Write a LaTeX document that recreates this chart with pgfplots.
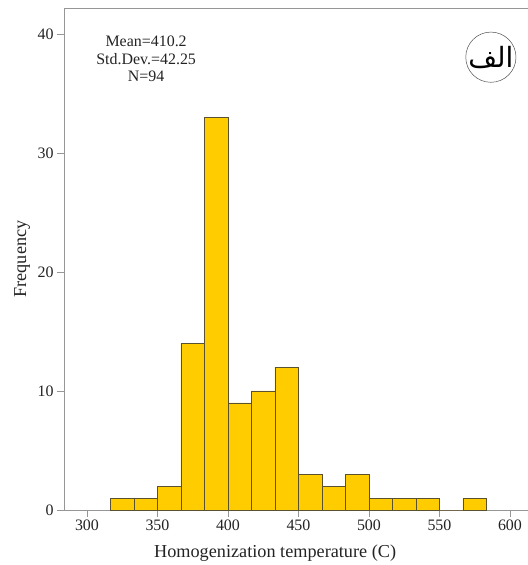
\documentclass[border=0pt]{standalone}
\usepackage{pgfplots}
\pgfplotsset{compat=1.18}
\usepackage{pgfplotstable}
\usepackage{fontspec}
\setmainfont{Liberation Serif}
\newfontfamily\arabicfont[Script=Arabic]{DejaVu Sans}
\TeXXeTstate=1
\definecolor{barfill}{RGB}{255,204,0}
\definecolor{baredge}{RGB}{90,80,50}
\definecolor{axgray}{RGB}{150,150,150}
\definecolor{txt}{RGB}{35,35,35}

\pgfplotstableread{
left count
316.6667 1
333.3333 1
350.0000 2
366.6667 14
383.3333 33
400.0000 9
416.6667 10
433.3333 12
450.0000 3
466.6667 2
483.3333 3
500.0000 1
516.6667 1
533.3333 1
550.0000 0
566.6667 1
583.3333 1
}\bins

\begin{document}
\begin{tikzpicture}
\useasboundingbox (0,0) rectangle (528bp,565bp);
\begin{axis}[
  at={(64bp,55bp)}, anchor=south west,
  scale only axis, width=464bp, height=502bp,
  xmin=283.7, xmax=612.8, ymin=0, ymax=42.18,
  axis x line=box, axis y line=left,
  axis line style={axgray, -, line width=0.8pt},
  xtick={300,350,...,600}, ytick={0,10,...,40},
  xtick pos=left, ytick pos=left,
  tick align=outside, major tick length=7bp,
  tick style={axgray, line width=0.8pt},
  minor tick num=0,
  /pgf/number format/assume math mode=true,
  tick label style={font=\fontsize{16}{18}\selectfont, text=txt},
  xticklabel style={yshift=1bp},
  xlabel={Homogenization temperature (C)},
  ylabel={Frequency},
  label style={font=\fontsize{18.3}{20}\selectfont, text=txt},
  xlabel style={at={(rel axis cs:0.455,0)}, anchor=base, yshift=-47bp},
  ylabel style={at={(rel axis cs:0,0.5)}, anchor=center, yshift=42bp},
  clip=false,
]
\addplot[ybar interval, fill=barfill, draw=baredge, line width=0.6pt] table[x=left, y=count] {\bins};
\node[align=center, font=\fontsize{16}{17.5}\selectfont, text=txt] at (rel axis cs:0.177,0.898)
  {Mean=410.2\\Std.Dev.=42.25\\N=94};
\node[draw=txt!80, circle, minimum size=48bp, inner sep=0pt, line width=0.5pt, font=\fontsize{28}{30}\selectfont]
  at (rel axis cs:0.920,0.902) {\arabicfont\beginR الف\endR};
\end{axis}
\end{tikzpicture}
\end{document}
